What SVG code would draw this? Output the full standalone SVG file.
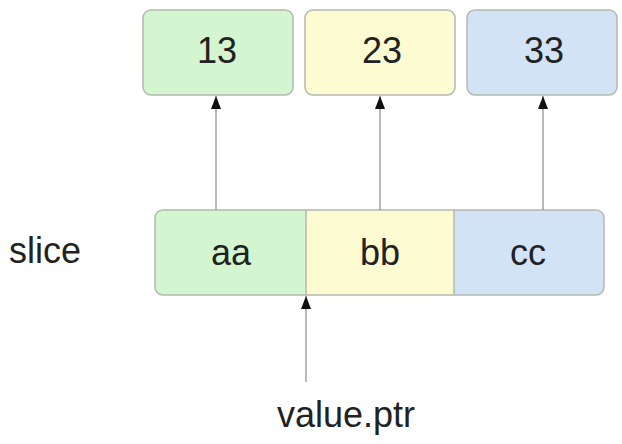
<svg xmlns="http://www.w3.org/2000/svg" width="622" height="444" viewBox="0 0 622 444">
<defs>
<marker id="ah" markerWidth="13" markerHeight="10" refX="13" refY="5" orient="auto" markerUnits="userSpaceOnUse" viewBox="0 0 13 10">
<path d="M0,0 L13,5 L0,10 Z" fill="#111"/>
</marker>
<style>
.t{font-family:"Liberation Sans",Arial,sans-serif;font-size:36px;fill:#222;text-anchor:middle}
.b{stroke:#b4b9b0;stroke-width:1.5}
.g{fill:#d3f5cf}.y{fill:#fdfbd2}.u{fill:#d2e3f6}
.c{stroke:#8a8a8a;stroke-width:1.2;fill:none;marker-end:url(#ah)}
</style>
</defs>
<rect width="622" height="444" fill="#fff"/>
<g id="n13"><rect class="b g" x="143" y="10" width="150" height="85" rx="8"/><text class="t" x="217" y="63">13</text></g>
<g id="n23"><rect class="b y" x="305" y="10" width="150" height="85" rx="8"/><text class="t" x="382" y="63">23</text></g>
<g id="n33"><rect class="b u" x="467" y="10" width="150" height="85" rx="8"/><text class="t" x="544" y="63">33</text></g>
<g id="slice">
<path class="g" d="M306,210 H163 A8,8 0 0 0 155,218 V287 A8,8 0 0 0 163,295 H306 Z"/>
<rect class="y" x="306" y="210" width="148" height="85"/>
<path class="u" d="M454,210 H596 A8,8 0 0 1 604,218 V287 A8,8 0 0 1 596,295 H454 Z"/>
<rect class="b" x="155" y="210" width="449" height="85" rx="8" fill="none"/>
<line class="b" x1="306" y1="210" x2="306" y2="295"/>
<line class="b" x1="454" y1="210" x2="454" y2="295"/>
<text class="t" x="231" y="265">aa</text>
<text class="t" x="380" y="265">bb</text>
<text class="t" x="528" y="265">cc</text>
</g>
<g id="label-slice"><text class="t" x="45" y="263">slice</text></g>
<g id="label-ptr"><text class="t" x="346" y="427">value.ptr</text></g>
<g id="connectors">
<line class="c" x1="216" y1="210" x2="216" y2="96"/>
<line class="c" x1="380" y1="210" x2="380" y2="96"/>
<line class="c" x1="543" y1="210" x2="543" y2="96"/>
<line class="c" x1="306" y1="382" x2="306" y2="296"/>
</g>
</svg>
